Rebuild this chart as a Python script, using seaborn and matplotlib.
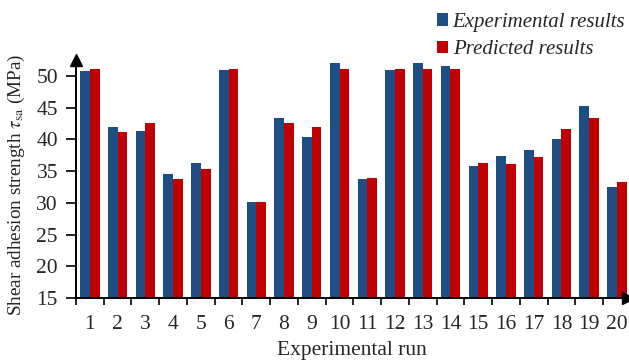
import matplotlib
matplotlib.use("Agg")
import matplotlib.pyplot as plt
import numpy as np
import pandas as pd
import seaborn as sns
from matplotlib.patches import Patch

# Shear adhesion strength per experimental run (MPa)
runs = [str(i) for i in range(1, 21)]
experimental = [50.8, 41.9, 41.3, 34.6, 36.2, 50.9, 30.2, 43.4, 40.4, 52.1,
                33.7, 50.9, 52.0, 51.6, 35.8, 37.3, 38.3, 40.0, 45.3, 32.5]
predicted = [51.1, 41.1, 42.5, 33.7, 35.4, 51.1, 30.1, 42.5, 42.0, 51.1,
             33.9, 51.1, 51.1, 51.1, 36.3, 36.1, 37.2, 41.6, 43.4, 33.2]
series_names = ["Experimental results", "Predicted results"]
y_ticks = [15, 20, 25, 30, 35, 40, 45, 50]

df = pd.DataFrame({
    "run": runs * 2,
    "value": experimental + predicted,
    "series": [series_names[0]] * len(runs) + [series_names[1]] * len(runs),
})

sns.set_theme(style="white")
plt.rcParams["font.family"] = ["Liberation Serif", "DejaVu Serif"]
plt.rcParams["mathtext.fontset"] = "stix"

fig = plt.figure(figsize=(6.29, 3.62), dpi=100)
W, H = 629, 362
ax = fig.add_axes([76 / W, (H - 298) / H, (628 - 76) / W, (298 - 60) / H])

palette = {series_names[0]: "#1F4E85", series_names[1]: "#C00000"}
sns.barplot(data=df, x="run", y="value", hue="series", palette=palette,
            width=0.7, gap=0, saturation=1, ax=ax, legend=False,
            edgecolor="none")

ax.set_ylim(15, 52.5)
ax.set_xlim(-0.5, -0.5 + (628 - 76) / 27.74)
ax.set_yticks(y_ticks)
ax.set_yticklabels([str(t) for t in y_ticks])

# major ticks at run boundaries, labels on minor ticks at run centres
n = len(runs)
ax.set_xticks(np.arange(n) - 0.5)
ax.set_xticklabels([])
ax.set_xticks(np.arange(n), minor=True)
ax.set_xticklabels(runs, minor=True)
ax.tick_params(axis="x", which="major", direction="out", length=5, width=1.2,
               color="black", bottom=True)
ax.tick_params(axis="x", which="minor", length=0, pad=12, labelsize=15.5)
ax.tick_params(axis="y", direction="out", length=7, width=1.2, color="black",
               left=True, pad=6, labelsize=15.5)

for side in ("top", "right"):
    ax.spines[side].set_visible(False)
for side in ("left", "bottom"):
    ax.spines[side].set_color("black")
    ax.spines[side].set_linewidth(1.4)

# arrow heads at the axis ends
ax.plot(0, 1, marker="^", color="black", markersize=9,
        transform=ax.transAxes, clip_on=False)
ax.plot(1, 0, marker=">", color="black", markersize=9,
        transform=ax.transAxes, clip_on=False)

ax.set_xlabel("Experimental run", fontsize=15.5, labelpad=5)
ax.set_ylabel(r"Shear adhesion strength $\tau_{\mathrm{sa}}$ (MPa)",
              fontsize=13.8)
ax.yaxis.set_label_coords(-0.089, 0.477)

handles = [Patch(facecolor=palette[s], edgecolor="none") for s in series_names]
leg = fig.legend(handles, series_names, loc="upper left",
                 bbox_to_anchor=(437 / W, 1 - 13 / H), frameon=False,
                 handlelength=0.55, handleheight=0.55, handletextpad=0.2,
                 labelspacing=0.4, borderaxespad=0, borderpad=0,
                 prop={"family": "Liberation Serif", "style": "italic",
                       "size": 15})

fig.savefig("out.png", dpi=100)
